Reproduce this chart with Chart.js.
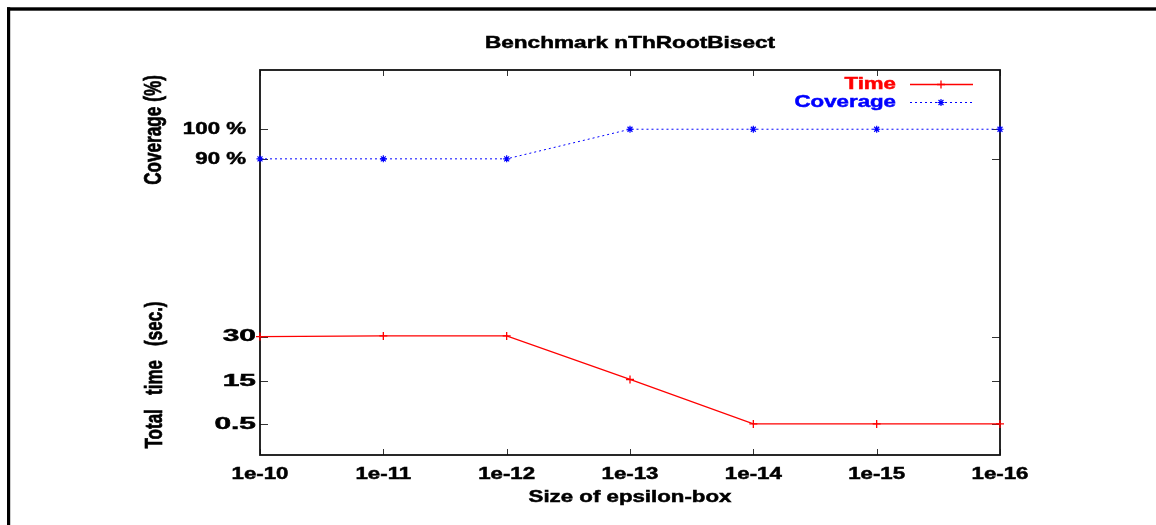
<!DOCTYPE html>
<html>
<head>
<meta charset="utf-8">
<script src="https://cdn.jsdelivr.net/npm/chart.js@4/dist/chart.umd.min.js"></script>
<style>
  html, body { margin: 0; padding: 0; background: #fff; }
  #wrap { width: 1156px; height: 525px; }
</style>
</head>
<body>
<div id="wrap"><canvas id="c" width="1156" height="525"></canvas></div>
<script>
// Benchmark results: epsilon-box size vs. run time and coverage
const epsilonLabels = ['1e-10', '1e-11', '1e-12', '1e-13', '1e-14', '1e-15', '1e-16'];
const timeSec = [30.0, 30.2, 30.2, 15.5, 0.5, 0.5, 0.5];
const coveragePct = [90, 90, 90, 100, 100, 100, 100];

// Both series share one vertical axis; each has its own labelled ticks
const timeTickValues = [0.5, 15, 30];
const timeTickLabels = ['0.5', '15', '30'];
const coverageTickValues = [90, 100];
const coverageTickLabels = ['90 %', '100 %'];

const FONT = '"Liberation Sans", Arial, Helvetica, sans-serif';
const TEXT_SIZE = 17;
const WIDE = 1.31;

function wideText(ctx, text, x, y, o) {
  ctx.save();
  ctx.translate(x, y);
  if (o.rotate) ctx.rotate(o.rotate);
  ctx.scale(o.sx || WIDE, o.sy || 1);
  ctx.font = 'bold ' + (o.size || TEXT_SIZE) + 'px ' + FONT;
  ctx.fillStyle = o.color || '#000';
  ctx.strokeStyle = o.color || '#000';
  ctx.lineWidth = 0.5;
  ctx.textAlign = o.align || 'center';
  ctx.textBaseline = 'middle';
  ctx.fillText(text, 0, 0);
  ctx.strokeText(text, 0, 0);
  ctx.restore();
}

function marker(ctx, style, x, y, r) {
  ctx.beginPath();
  ctx.moveTo(x - r, y); ctx.lineTo(x + r, y);
  ctx.moveTo(x, y - r); ctx.lineTo(x, y + r);
  if (style === 'star') {
    const d = r * Math.SQRT1_2;
    ctx.moveTo(x - d, y - d); ctx.lineTo(x + d, y + d);
    ctx.moveTo(x - d, y + d); ctx.lineTo(x + d, y - d);
  }
  ctx.stroke();
}

const gnuplotFrame = {
  id: 'gnuplotFrame',
  beforeDatasetsDraw(chart) {
    const ctx = chart.ctx, a = chart.chartArea;
    const xs = chart.scales.x, ys = chart.scales.y;
    ctx.save();
    // page border (top and left)
    ctx.fillStyle = '#000';
    ctx.fillRect(7, 7.3, 1149, 3.4);
    ctx.fillRect(7, 7.3, 3.2, 518);
    // inward ticks
    ctx.strokeStyle = '#333';
    ctx.lineWidth = 1;
    ctx.beginPath();
    timeTickValues.concat(coverageTickValues).forEach(v => {
      const py = Math.round(ys.getPixelForValue(v)) + 0.5;
      ctx.moveTo(a.left, py); ctx.lineTo(a.left + 8, py);
      ctx.moveTo(a.right, py); ctx.lineTo(a.right - 8, py);
    });
    epsilonLabels.forEach((_, i) => {
      const px = Math.round(xs.getPixelForValue(i)) + 0.5;
      ctx.moveTo(px, a.top); ctx.lineTo(px, a.top + 6);
      ctx.moveTo(px, a.bottom); ctx.lineTo(px, a.bottom - 6);
    });
    ctx.stroke();
    // plot border
    ctx.strokeStyle = '#111';
    ctx.lineWidth = 1.8;
    ctx.strokeRect(a.left, a.top, a.right - a.left, a.bottom - a.top);
    ctx.restore();
  },
  afterDraw(chart) {
    const ctx = chart.ctx, a = chart.chartArea;
    const xs = chart.scales.x, ys = chart.scales.y;
    const cx = (a.left + a.right) / 2;
    // title
    wideText(ctx, 'Benchmark nThRootBisect', cx, 43, { sx: 1.33 });
    // x tick labels and title
    epsilonLabels.forEach((lab, i) => {
      wideText(ctx, lab, xs.getPixelForValue(i), 474, {});
    });
    wideText(ctx, 'Size of epsilon-box', cx, 497, {});
    // y tick labels
    coverageTickValues.forEach((v, i) => {
      wideText(ctx, coverageTickLabels[i], a.left - 14, ys.getPixelForValue(v), { align: 'right' });
    });
    timeTickValues.forEach((v, i) => {
      wideText(ctx, timeTickLabels[i], a.left - 4, ys.getPixelForValue(v), { align: 'right', sx: 1.76 });
    });
    // rotated axis titles
    wideText(ctx, 'Coverage (%)', 155, 130, { rotate: -Math.PI / 2, sx: 1.01, sy: 1.38 });
    wideText(ctx, 'Total   time   (sec.)', 156, 375, { rotate: -Math.PI / 2, sx: 1.0, sy: 1.38 });
    // key
    const keyX = 896, l0 = 910, l1 = 973, mk = 941;
    const entries = chart.data.datasets;
    [84, 102].forEach((ky, i) => {
      const ds = entries[i];
      wideText(ctx, ds.label, keyX, ky, { align: 'right', color: ds.borderColor });
      ctx.save();
      ctx.strokeStyle = ds.borderColor;
      ctx.lineWidth = ds.borderWidth;
      ctx.setLineDash(ds.borderDash || []);
      ctx.beginPath();
      ctx.moveTo(l0, ky + 0.5); ctx.lineTo(l1, ky + 0.5);
      ctx.stroke();
      ctx.setLineDash([]);
      ctx.lineWidth = ds.pointBorderWidth;
      marker(ctx, ds.pointStyle, mk, ky + 0.5, ds.pointRadius);
      ctx.restore();
    });
  }
};

new Chart(document.getElementById('c'), {
  type: 'line',
  data: {
    labels: epsilonLabels,
    datasets: [
      {
        label: 'Time',
        data: timeSec,
        borderColor: '#ff0000',
        borderWidth: 1.3,
        pointStyle: 'cross',
        pointRadius: 4,
        pointBorderWidth: 1.3,
        pointBorderColor: '#ff0000',
        fill: false,
        tension: 0,
        clip: false
      },
      {
        label: 'Coverage',
        data: coveragePct,
        borderColor: '#0000ff',
        borderWidth: 1,
        borderDash: [2, 3],
        pointStyle: 'star',
        pointRadius: 3.5,
        pointBorderWidth: 1.2,
        pointBorderColor: '#0000ff',
        fill: false,
        tension: 0,
        clip: false
      }
    ]
  },
  options: {
    responsive: false,
    animation: false,
    devicePixelRatio: 1,
    events: [],
    layout: { padding: { left: 260, right: 156, top: 70, bottom: 70 } },
    plugins: { legend: { display: false }, tooltip: { enabled: false }, title: { display: false } },
    scales: {
      x: { type: 'category', display: false, offset: false },
      y: { type: 'linear', display: false, min: -10, max: 120 }
    }
  },
  plugins: [gnuplotFrame]
});
</script>
</body>
</html>
